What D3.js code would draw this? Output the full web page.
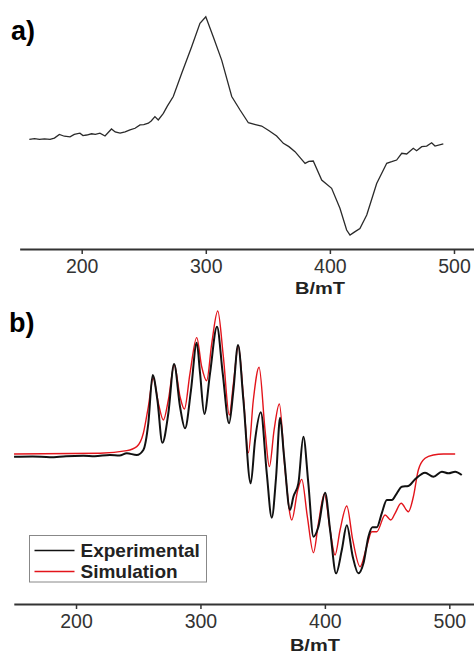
<!DOCTYPE html>
<html>
<head>
<meta charset="utf-8">
<script src="https://cdn.jsdelivr.net/npm/d3@7"></script>
<style>
  body { margin: 0; background: #fff; }
  text { font-family: "Liberation Sans", Arial, sans-serif; }
</style>
</head>
<body>
<div id="chart"></div>
<script>
// panel a) single EPR spectrum: field (mT) and intensity (a.u.)
var fieldA = [157.8, 162, 166, 170, 174.5, 178, 182, 186, 190.6, 194, 198.6, 201, 204, 208, 211, 214.7, 218.8, 224, 227, 230.9, 235, 238.9, 243, 247, 250, 253.7, 256, 259, 261.7, 265.8, 269, 273.8, 280.6, 288.6, 295.3, 300, 306, 312.8, 320.9, 327.6, 334.3, 340, 345, 351, 357.1, 362.5, 367, 371.9, 376, 380, 383, 386.6, 393.4, 401.4, 408.1, 413.5, 416.2, 420, 424.2, 429.7, 437.7, 445.8, 449.8, 453.8, 457.9, 461.9, 467.2, 469.9, 474, 478, 482, 484.7, 491.4];
var intA = [0, 0.006, 0, 0.004, 0, 0.01, 0.04, 0.025, 0.02, 0.04, 0.05, 0.03, 0.035, 0.045, 0.04, 0.05, 0.027, 0.084, 0.06, 0.05, 0.06, 0.076, 0.09, 0.117, 0.12, 0.131, 0.15, 0.185, 0.158, 0.212, 0.27, 0.349, 0.538, 0.755, 0.946, 1.0, 0.837, 0.646, 0.349, 0.239, 0.135, 0.12, 0.108, 0.07, 0.027, -0.033, -0.06, -0.101, -0.15, -0.196, -0.18, -0.177, -0.332, -0.4, -0.563, -0.74, -0.781, -0.755, -0.727, -0.618, -0.36, -0.196, -0.183, -0.169, -0.114, -0.12, -0.073, -0.093, -0.06, -0.055, -0.028, -0.055, -0.038];

// panel b) experimental spectrum
var fieldExp = [150.2, 165, 179, 192, 205.9, 215, 227.3, 235, 240.8, 248.8, 254.1, 258.1, 261.6, 265.4, 269.4, 274.2, 278.8, 283.6, 287.6, 292.4, 297, 299.7, 303.1, 307.7, 313.3, 317.9, 323, 326.5, 330.2, 334.5, 340.4, 343.9, 348.5, 353.3, 357.3, 360.8, 364, 367.2, 372, 374.7, 378.7, 382.7, 386.7, 390.8, 394.8, 400.2, 404.2, 409, 413.6, 417.6, 422.4, 426.9, 431, 435, 438.2, 441.7, 445.7, 449.8, 453.8, 457.8, 461.8, 467.1, 472.5, 480.5, 487.2, 494, 499.3, 504.7, 510];
var intExp = [-0.012, -0.01, -0.016, -0.008, -0.005, -0.008, 0, -0.004, 0.012, 0, 0.035, 0.22, 0.556, 0.382, 0.085, 0.29, 0.632, 0.335, 0.185, 0.451, 0.78, 0.567, 0.285, 0.567, 0.891, 0.567, 0.22, 0.451, 0.764, 0.382, -0.197, 0.104, 0.297, -0.127, -0.435, -0.151, 0.259, -0.012, -0.382, -0.29, -0.197, 0.127, -0.197, -0.567, -0.498, -0.262, -0.521, -0.822, -0.66, -0.488, -0.706, -0.822, -0.752, -0.567, -0.502, -0.502, -0.405, -0.313, -0.313, -0.266, -0.22, -0.215, -0.169, -0.123, -0.151, -0.116, -0.127, -0.116, -0.139];

// panel b) simulated spectrum
var fieldSim = [150.2, 219.3, 240.8, 248.8, 254.1, 258.1, 262.1, 266.2, 270.2, 274.2, 279, 283.6, 287.1, 291.6, 297, 301, 305, 309.1, 313.9, 318.4, 323.2, 326.5, 330.5, 334.5, 338.5, 342.5, 347.1, 351.9, 355.4, 359.2, 363.4, 368, 373.4, 378.2, 381.4, 385.9, 390.8, 394.8, 399.6, 404.2, 408.2, 412.2, 417.6, 422.4, 428.3, 433.6, 437.7, 441.7, 448.4, 453, 456.4, 461.3, 467.1, 471.1, 475.1, 480.5, 487.2, 495.2, 504.7];
var intSim = [0.007, 0.012, 0.03, 0.058, 0.151, 0.335, 0.533, 0.359, 0.243, 0.382, 0.625, 0.405, 0.319, 0.567, 0.815, 0.613, 0.516, 0.776, 1.0, 0.683, 0.278, 0.498, 0.757, 0.405, 0.016, 0.382, 0.609, 0.174, -0.081, 0.174, 0.354, -0.104, -0.451, -0.243, -0.169, -0.428, -0.678, -0.474, -0.271, -0.521, -0.694, -0.521, -0.354, -0.59, -0.776, -0.637, -0.533, -0.533, -0.417, -0.451, -0.405, -0.335, -0.394, -0.29, -0.104, -0.023, 0, 0.007, 0.007];

var xTicks = [200, 300, 400, 500];
var seriesNames = ["Experimental", "Simulation"];
var seriesColors = ["#111111", "#e3141b"];

var svg = d3.select("#chart").append("svg")
  .attr("width", 474)
  .attr("height", 654);

function zip(xs, ys) {
  return xs.map(function (x, i) { return { x: x, y: ys[i] }; });
}

function drawAxis(x, yPos, labelY) {
  var g = svg.append("g")
    .attr("transform", "translate(0," + yPos + ")")
    .call(d3.axisBottom(x).tickValues(xTicks).tickSizeInner(5).tickSizeOuter(0).tickPadding(5));
  g.select(".domain").attr("stroke", "#333").attr("stroke-width", 2);
  g.selectAll(".tick line").attr("stroke", "#333").attr("stroke-width", 1.5);
  g.selectAll(".tick text")
    .attr("font-family", "'Liberation Sans', Arial, sans-serif")
    .attr("font-size", 19.5)
    .attr("fill", "#333");
  // axis title is drawn wide in the original, stretch it to match
  svg.append("text")
    .attr("x", x(392))
    .attr("y", labelY)
    .attr("text-anchor", "middle")
    .attr("font-size", 16.5)
    .attr("font-weight", "bold")
    .attr("fill", "#222")
    .attr("textLength", 50)
    .attr("lengthAdjust", "spacingAndGlyphs")
    .text("B/mT");
}

// ---- panel a ----
var xA = d3.scaleLinear().domain([150, 520]).range([19.65, 478.8]);
var yA = d3.scaleLinear().domain([0, 1]).range([139.3, 16.7]);

svg.append("path")
  .datum(zip(fieldA, intA))
  .attr("fill", "none")
  .attr("stroke", "#2a2a2a")
  .attr("stroke-width", 1.3)
  .attr("d", d3.line().x(function (d) { return xA(d.x); }).y(function (d) { return yA(d.y); }));

drawAxis(xA, 249, 294);

svg.append("text")
  .attr("x", 11).attr("y", 40)
  .attr("font-size", 27).attr("font-weight", "bold")
  .text("a)");

// ---- panel b ----
var xB = d3.scaleLinear().domain([150, 520]).range([13.8, 474.2]);
var yB = d3.scaleLinear().domain([0, 1]).range([455, 311]);

var lineB = d3.line()
  .curve(d3.curveMonotoneX)
  .x(function (d) { return xB(d.x); })
  .y(function (d) { return yB(d.y); });

svg.append("path")
  .datum(zip(fieldSim, intSim))
  .attr("fill", "none")
  .attr("stroke", seriesColors[1])
  .attr("stroke-width", 1.4)
  .attr("d", lineB);

svg.append("path")
  .datum(zip(fieldExp, intExp))
  .attr("fill", "none")
  .attr("stroke", seriesColors[0])
  .attr("stroke-width", 2)
  .attr("d", lineB);

drawAxis(xB, 604, 650.5);

svg.append("text")
  .attr("x", 9).attr("y", 332)
  .attr("font-size", 27).attr("font-weight", "bold")
  .text("b)");

// legend
var legend = svg.append("g").attr("transform", "translate(29.5,535.5)");
legend.append("rect")
  .attr("width", 177).attr("height", 46.5)
  .attr("fill", "#fff")
  .attr("stroke", "#888").attr("stroke-width", 1);

var items = legend.selectAll(".item")
  .data(seriesNames)
  .enter().append("g")
  .attr("transform", function (d, i) { return "translate(0," + (15 + i * 21) + ")"; });

items.append("line")
  .attr("x1", 5).attr("x2", 45)
  .attr("stroke", function (d, i) { return seriesColors[i]; })
  .attr("stroke-width", function (d, i) { return i === 0 ? 1.6 : 1.4; });

items.append("text")
  .attr("x", 51).attr("y", 0)
  .attr("dy", "0.35em")
  .attr("font-size", 19)
  .attr("font-weight", "bold")
  .attr("fill", "#222")
  .text(function (d) { return d; });
</script>
</body>
</html>
